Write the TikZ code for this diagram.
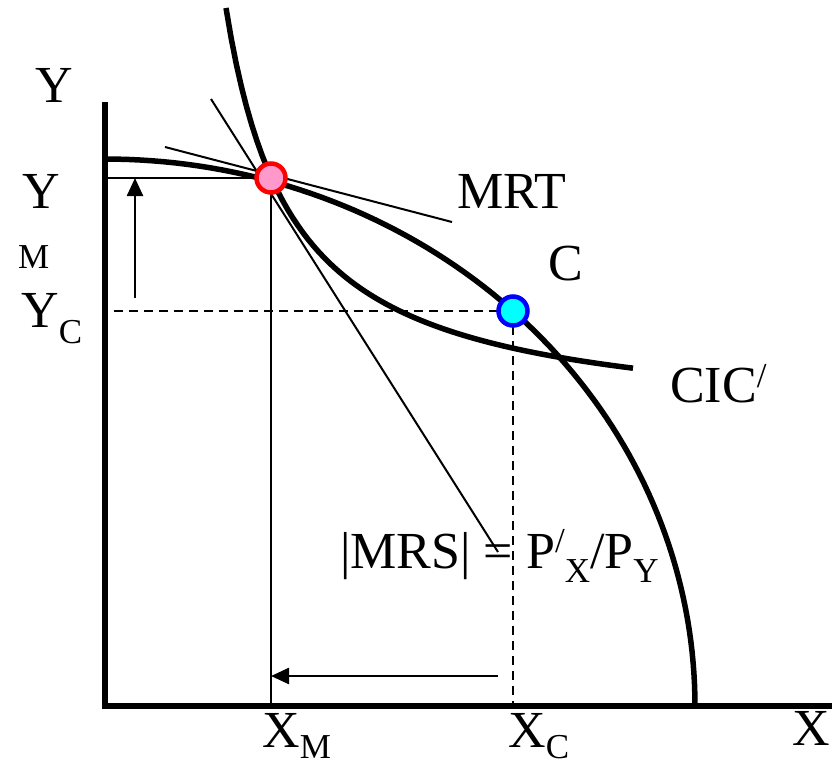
\documentclass[tikz,border=0pt]{standalone}
\usepackage{fontspec}
\setmainfont{Liberation Serif}
\usetikzlibrary{arrows.meta}
\definecolor{dotpink}{RGB}{255,153,204}
\definecolor{dotcyan}{RGB}{0,255,255}
\newcommand{\lowsub}[2][14pt]{\raisebox{-#1}{\fontsize{35}{40}\selectfont #2}}
\newcommand{\highsup}[2][16pt]{\raisebox{#1}{\fontsize{35}{40}\selectfont #2}}

\begin{document}
\begin{tikzpicture}[x=1pt, y=-1pt,
    lbl/.style={font=\fontsize{52}{60}\selectfont, inner sep=0, anchor=base west},
    small/.style={font=\fontsize{35}{40}\selectfont, inner sep=0, anchor=base west},
    fine/.style={line width=2pt},
    guide/.style={line width=2pt, dash pattern=on 9pt off 6pt},
    curve/.style={line width=5.5pt},
    arr/.style={line width=2.5pt, -{Triangle[length=18pt, width=16pt]}},
    dot/.style={circle, line width=4.5pt, minimum size=29pt, inner sep=0}]
  \useasboundingbox (0,0) rectangle (837,766);

  % Points
  \coordinate (O) at (105,706);
  \coordinate (M) at (271,178);
  \coordinate (C) at (513,311);
  \coordinate (mrtA) at (165,147);
  \coordinate (mrtB) at (452,222);
  \coordinate (mrsA) at (211,99);
  \coordinate (mrsB) at (498,552);
  \coordinate (ya) at (135,298);
  \coordinate (xa) at (498,676);

  % Guides to the axes
  \draw[guide] (C) -- (C -| O);
  \draw[guide] (C) -- (C |- O);
  \draw[fine] (M) -- (M -| O);
  \draw[fine] (M) -- (M |- O);

  % Tangents at M
  \draw[fine] (mrtA) -- (mrtB);
  \draw[fine] (mrsA) -- (mrsB);

  % Shift arrows
  \draw[arr] (ya) -- (ya |- M);
  \draw[arr] (xa) -- (xa -| M);

  % Axes
  \draw[line width=6.5pt, line join=miter] (105,102) -- (O) -- (832,706);

  % Production frontier and CIC
  \draw[curve] plot[domain=0:90, samples=80] ({105+590*cos(\x)}, {706-547*sin(\x)});
  \draw[curve] plot[domain=226:633, samples=80] (\x, {427.1-279.13*(100/(\x-159.4))});

  % Points M and C
  \node[dot, draw=red, fill=dotpink] (Mdot) at (M) {};
  \node[dot, draw=blue, fill=dotcyan] (Cdot) at (C) {};

  % Labels
  \node[lbl] (ytop) at (35,102) {Y};
  \node[lbl] (ym) at (22,208) {Y};
  \node[small] (ymsub) at (18,268) {M};
  \node[lbl] (yc) at (21,327) {Y\lowsub[16pt]{C}};
  \node[lbl] (xm) at (262,747) {X\lowsub[11pt]{M}};
  \node[lbl] (xc) at (508,747) {X\lowsub[11pt]{C}};
  \node[lbl] (xax) at (792,745) {X};
  \node[lbl] (mrt) at (457,208) {MRT};
  \node[lbl] (clbl) at (548,280) {C};
  \node[lbl] (cic) at (670,402) {CIC\highsup[15pt]{/}};
  \node[lbl] (mrs) at (340,568) {|MRS| = P\highsup{/}\lowsub{X}/P\lowsub{Y}};
\end{tikzpicture}
\end{document}
